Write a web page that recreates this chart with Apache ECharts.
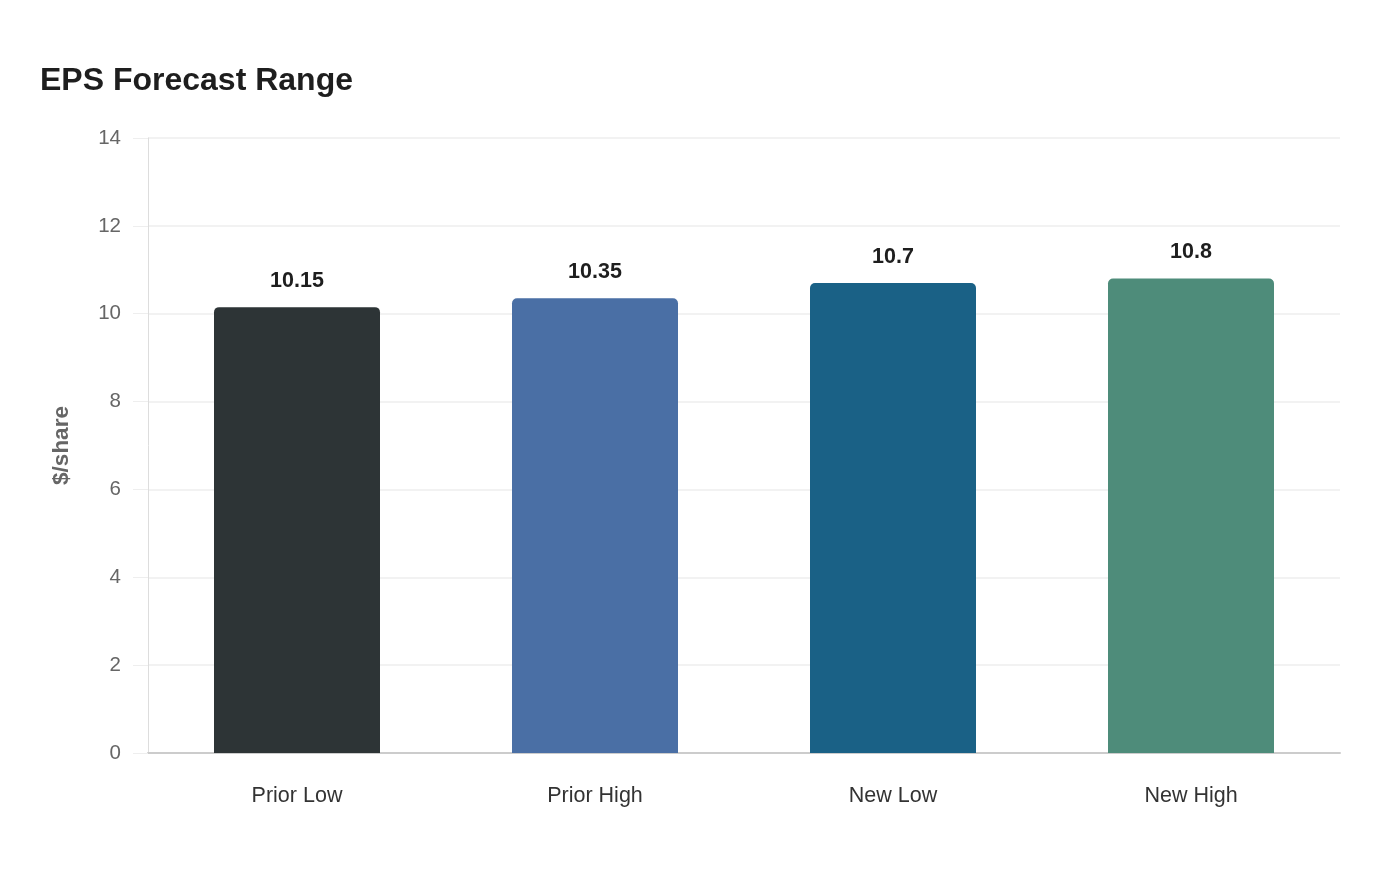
<!DOCTYPE html>
<html>
<head>
<meta charset="utf-8">
<script src="https://cdn.jsdelivr.net/npm/echarts@6/dist/echarts.min.js"></script>
<style>
	html, body { margin: 0; padding: 0; background: #fff; }
	#chart { width: 1400px; height: 880px; }
</style>
</head>
<body>
<div id="chart"></div>
<script>
// 数据
const categories = ['Prior Low', 'Prior High', 'New Low', 'New High'];
const epsValues = [10.15, 10.35, 10.7, 10.8];
const barColors = ['#2d3436', '#4a6fa5', '#1a6186', '#4e8c7a'];

const chart = echarts.init(document.getElementById('chart'));

const option = {
	backgroundColor: '#fff',
	textStyle: { fontFamily: '"Liberation Sans", Arial, sans-serif' },
	title: {
		text: 'EPS Forecast Range',
		left: 40,
		top: 65,
		padding: 0,
		textStyle: { fontSize: 32, fontWeight: 'bold', color: '#1e1e1e' },
	},
	grid: { left: 148, right: 60, top: 138, bottom: 127 },
	xAxis: {
		type: 'category',
		data: categories,
		axisLine: { lineStyle: { color: '#cccccc', width: 2 } },
		axisTick: { show: false },
		axisLabel: { color: '#333', fontSize: 21.5, margin: 32 },
	},
	yAxis: {
		type: 'value',
		min: 0,
		max: 14,
		interval: 2,
		name: '$/share',
		nameLocation: 'middle',
		nameGap: 75,
		nameTextStyle: { color: '#666', fontSize: 22.5, fontWeight: 'bold' },
		axisLine: { show: true, lineStyle: { color: '#dddddd' } },
		axisTick: { show: true, length: 15, lineStyle: { color: '#eeeeee' } },
		axisLabel: { color: '#666', fontSize: 20.5, margin: 27 },
		splitLine: { lineStyle: { color: '#eeeeee', width: 1.5 } },
	},
	series: [
		{
			type: 'bar',
			barWidth: 166,
			data: epsValues.map((v, i) => ({ value: v, itemStyle: { color: barColors[i] } })),
			itemStyle: { borderRadius: [5, 5, 0, 0] },
			label: {
				show: true,
				position: 'top',
				distance: 15,
				color: '#1e1e1e',
				fontSize: 21.5,
				fontWeight: 'bold',
			},
		},
	],
};

chart.setOption(option);
</script>
</body>
</html>
